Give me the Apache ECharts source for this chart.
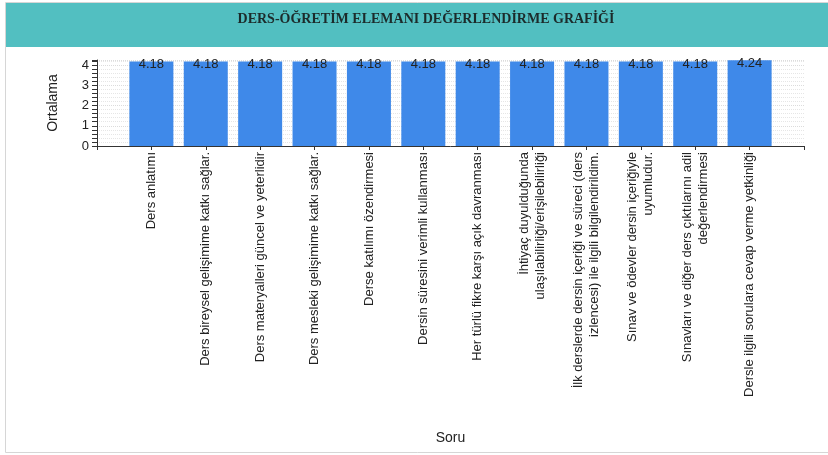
<!DOCTYPE html>
<html>
<head>
<meta charset="utf-8">
<script src="https://cdn.jsdelivr.net/npm/echarts@6/dist/echarts.min.js"></script>
<style>
  html, body { margin: 0; padding: 0; background: #fff; }
  #chart { width: 828px; height: 455px; }
</style>
</head>
<body>
<div id="chart"></div>
<script>
// questions (x axis) and their average scores
const questions = [
  'Ders anlatımı',
  'Ders bireysel gelişimime katkı sağlar.',
  'Ders materyalleri güncel ve yeterlidir',
  'Ders mesleki gelişimime katkı sağlar.',
  'Derse katılımı özendirmesi',
  'Dersin süresini verimli kullanması',
  'Her türlü fikre karşı açık davranması',
  'İhtiyaç duyulduğunda\nulaşılabilirliği/erişilebilirliği',
  'İlk derslerde dersin içeriği ve süreci (ders\nizlencesi) ile ilgili bilgilendirildim.',
  'Sınav ve ödevler dersin içeriğiyle\nuyumludur.',
  'Sınavları ve diğer ders çıktılarını adil\ndeğerlendirmesi',
  'Dersle ilgili sorulara cevap verme yetkinliği'
]
const averages = [4.18, 4.18, 4.18, 4.18, 4.18, 4.18, 4.18, 4.18, 4.18, 4.18, 4.18, 4.24]
const yTicks = [0, 1, 2, 3, 4]

const chart = echarts.init(document.getElementById('chart'))

const option = {
  animation: false,
  graphic: [
    {
      type: 'rect',
      shape: { x: 5.5, y: 2.5, width: 830, height: 450 },
      style: { fill: '#fff', stroke: '#d6d6d6', lineWidth: 1 },
      z: -10,
    },
    {
      type: 'rect',
      shape: { x: 6, y: 3, width: 822, height: 44 },
      style: { fill: '#52bfc1' },
      z: -5,
    },
  ],
  title: {
    text: 'DERS-ÖĞRETİM ELEMANI DEĞERLENDİRME GRAFİĞİ',
    left: 421,
    top: 7,
    textAlign: 'center',
    textStyle: {
      fontFamily: 'Liberation Serif',
      fontWeight: 'bold',
      fontSize: 14,
      color: '#1c2b2b',
    },
  },
  grid: {
    left: 97,
    right: 24,
    top: 60,
    bottom: 309,
  },
  xAxis: {
    type: 'value',
    min: -1,
    max: 12,
    interval: 1,
    name: 'Soru',
    nameLocation: 'middle',
    nameGap: 285,
    nameTextStyle: { fontFamily: 'Liberation Sans', fontSize: 14, color: '#222' },
    axisLine: { onZero: false, lineStyle: { color: '#333' } },
    axisTick: { length: 4, lineStyle: { color: '#333' } },
    splitLine: { show: false },
    axisLabel: {
      rotate: 90,
      fontFamily: 'Liberation Sans',
      fontSize: 13,
      color: '#222',
      lineHeight: 16,
      margin: 6,
      formatter: (v) => questions[v] || '',
    },
  },
  yAxis: {
    type: 'value',
    min: 0,
    max: 4.25,
    interval: 1,
    name: 'Ortalama',
    nameLocation: 'middle',
    nameGap: 37,
    nameTextStyle: { fontFamily: 'Liberation Sans', fontSize: 14, color: '#222' },
    axisLine: { show: true, onZero: false, lineStyle: { color: '#333' } },
    axisTick: { show: true, length: 5, lineStyle: { color: '#333' } },
    minorTick: { show: true, splitNumber: 5, length: 5, lineStyle: { color: '#333' } },
    splitLine: { show: true, lineStyle: { color: '#dcdcdc', type: 'dotted' } },
    minorSplitLine: { show: true, lineStyle: { color: '#e6e6e6', type: 'dotted' } },
    axisLabel: {
      showMaxLabel: false,
      fontFamily: 'Liberation Sans',
      fontSize: 13,
      color: '#222',
      margin: 8,
      formatter: (v) => (yTicks.includes(v) ? String(v) : ''),
    },
  },
  series: [
    {
      type: 'bar',
      barWidth: 44,
      data: averages.map((v, i) => [i, v]),
      itemStyle: { color: '#3f89e9' },
      label: {
        show: true,
        position: 'top',
        distance: -10,
        fontFamily: 'Liberation Sans',
        fontSize: 13,
        color: '#222',
        formatter: (p) => p.value[1].toFixed(2),
      },
    },
  ],
}

chart.setOption(option)
</script>
</body>
</html>
